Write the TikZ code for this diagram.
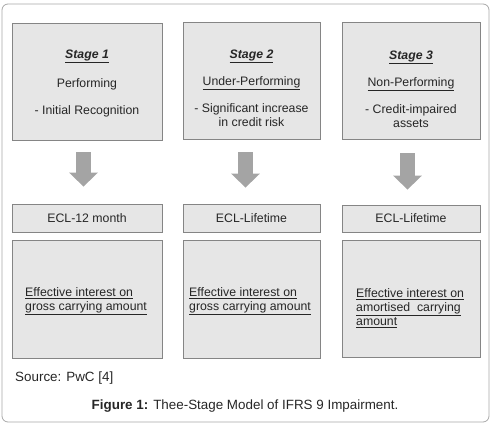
\documentclass[tikz,border=0pt]{standalone}
\usepackage{fontspec}
\setmainfont{Liberation Sans}
\usetikzlibrary{arrows.meta}
\definecolor{boxfill}{HTML}{E6E6E6}
\definecolor{boxline}{HTML}{858585}
\definecolor{framegray}{HTML}{A8A8A8}
\definecolor{arrowfill}{HTML}{A4A4A4}
\definecolor{textgray}{HTML}{262626}
\tikzset{
  stagebox/.style={draw=boxline, fill=boxfill, line width=0.8pt, inner sep=0pt},
  boxtext/.style={text=textgray, font=\fontsize{12.3}{14}\selectfont, inner sep=0pt},
  fatarrow/.style={draw=arrowfill, line width=15pt, -{Triangle[width=28pt, length=14pt]}}
}
\newcommand{\stagetitle}[1]{\underline{\textbf{\textit{#1}}}}
\begin{document}
\begin{tikzpicture}[x=1pt, y=-1pt]
  \useasboundingbox (0,0) rectangle (493,425);
  % frame
  \draw[framegray, line width=0.8pt, rounded corners=6pt] (2,4) rectangle (489,422);

  % stage boxes
  \node[stagebox, minimum width=150pt, minimum height=117pt] (s1) at (87,81.5) {};
  \node[stagebox, minimum width=137pt, minimum height=117pt] (s2) at (251.5,80.5) {};
  \node[stagebox, minimum width=138pt, minimum height=117pt] (s3) at (411,80.5) {};

  \node[boxtext] (t1) at (87,56.5) {\stagetitle{Stage 1}};
  \node[boxtext] (p1) at (87,84) {Performing};
  \node[boxtext] (r1) at (87,111) {- Initial Recognition};

  \node[boxtext] (t2) at (251.5,56.5) {\stagetitle{Stage 2}};
  \node[boxtext] (p2) at (251.5,83.5) {\underline{Under-Performing}};
  \node[boxtext, align=center, anchor=north] (r2) at (251.5,103) {- Significant increase\\in credit risk};

  \node[boxtext] (t3) at (411,57) {\stagetitle{Stage 3}};
  \node[boxtext] (p3) at (411,84) {\underline{Non-Performing}};
  \node[boxtext, align=center, anchor=north] (r3) at (411,104) {- Credit-impaired\\assets};

  % ECL boxes
  \node[stagebox, boxtext, minimum width=150pt, minimum height=28pt] (e1) at (87,218) {ECL-12 month};
  \node[stagebox, boxtext, minimum width=137pt, minimum height=28pt] (e2) at (251.5,218) {ECL-Lifetime};
  \node[stagebox, boxtext, minimum width=138pt, minimum height=27pt] (e3) at (411,218.5) {ECL-Lifetime};

  % interest boxes
  \node[stagebox, minimum width=150pt, minimum height=118pt] (i1) at (87,299) {};
  \node[stagebox, minimum width=137pt, minimum height=118pt] (i2) at (251.5,299) {};
  \node[stagebox, minimum width=138pt, minimum height=117pt] (i3) at (411,298.5) {};

  \node[boxtext, align=left, anchor=north west] (n1) at (25,287.5) {\underline{Effective interest on}\\\underline{gross carrying amount}};
  \node[boxtext, align=left, anchor=north west] (n2) at (189,287.5) {\underline{Effective interest on}\\\underline{gross carrying amount}};
  \node[boxtext, align=left, anchor=north west] (n3) at (356,288.5) {\underline{Effective interest on}\\\underline{amortised\ \ carrying}\\\underline{amount}};

  % arrows
  \draw[fatarrow] ([xshift=-3.5pt, yshift=-12pt]s1.south) -- ([xshift=-3.5pt, yshift=17pt]e1.north);
  \draw[fatarrow] ([xshift=-6pt, yshift=-13pt]s2.south) -- ([xshift=-6pt, yshift=16pt]e2.north);
  \draw[fatarrow] ([xshift=-3.5pt, yshift=-14pt]s3.south) -- ([xshift=-3.5pt, yshift=15pt]e3.north);

  % source and caption
  \node[text=textgray, font=\fontsize{13.4}{16}\selectfont, anchor=west, inner sep=0pt] (src) at (15,378) {Source: PwC [4]};
  \node[text=textgray, font=\fontsize{13.4}{16}\selectfont, inner sep=0pt] (cap) at (245,406) {\textbf{Figure 1:} Thee-Stage Model of IFRS 9 Impairment.};
\end{tikzpicture}
\end{document}
